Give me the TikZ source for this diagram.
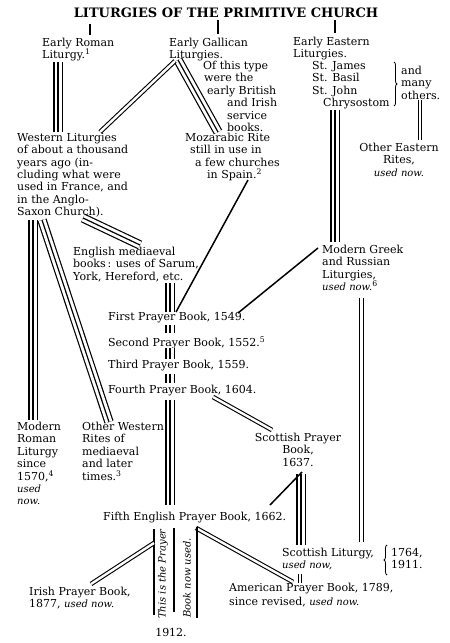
\documentclass[tikz,border=0pt]{standalone}
\usepackage{fontspec}
\setmainfont{DejaVu Serif}
\usetikzlibrary{decorations.pathreplacing}
\newcommand\ital[1]{{\fontsize{10}{12}\selectfont\itshape #1}}
\begin{document}
\begin{tikzpicture}[x=1pt,y=-1pt,
  txt/.style={inner sep=0pt, anchor=north west, align=left, font=\fontsize{11}{12.4}\selectfont},
  ctxt/.style={txt, anchor=north, align=center},
  tick/.style={line width=2.8pt},
  triple/.style={line width=1.2pt, preaction={draw, line width=9.4pt}, preaction={draw=white, line width=7pt}},
  dbl/.style={double, double distance=2.4pt, line width=1.1pt},
  single/.style={line width=1.5pt},
  brc/.style={decorate, decoration={brace, amplitude=3pt}, line width=0.8pt}
]
\useasboundingbox (0,0) rectangle (450,643);
% ---------- nodes ----------
\node[font=\fontsize{13}{16}\selectfont\bfseries, inner sep=0pt] (title) at (226,13) {LITURGIES OF THE PRIMITIVE CHURCH};
\node[txt] (roman) at (42,38) {Early Roman\\Liturgy.\textsuperscript{1}};
\node[txt] (gallican) at (169,38) {Early Gallican\\Liturgies.};
\node[txt] (oftype) at (203,61) {Of this type\\\hspace*{1pt}were the\\\hspace*{4pt}early British\\\hspace*{24pt}and Irish\\\hspace*{24pt}service\\\hspace*{24pt}books.};
\node[txt] (eastern) at (293,37) {Early Eastern\\Liturgies.};
\node[txt] (saints) at (312,61) {St. James\\St. Basil\\St. John\\\hspace*{11pt}Chrysostom};
\node[txt] (others) at (401,66) {and\\many\\others.};
\node[ctxt] (othereast) at (399,143) {Other Eastern\\Rites,\\\ital{used now.}};
\node[txt] (western) at (17,133) {Western Liturgies\\of about a thousand\\years ago (in-\\cluding what were\\used in France, and\\in the Anglo-\\Saxon Church).};
\node[txt] (mozarabic) at (185,133) {Mozarabic Rite\\\hspace*{5pt}still in use in\\\hspace*{10pt}a few churches\\\hspace*{22pt}in Spain.\textsuperscript{2}};
\node[txt] (greek) at (322,245) {Modern Greek\\and Russian\\Liturgies,\\\ital{used now.}\textsuperscript{6}};
\node[txt] (english) at (73,247) {English mediaeval\\books\,: uses of Sarum,\\York, Hereford, etc.};
\node[txt] (first) at (108,312) {First Prayer Book, 1549.};
\node[txt] (second) at (108,337) {Second Prayer Book, 1552.\textsuperscript{5}};
\node[txt] (third) at (108,360) {Third Prayer Book, 1559.};
\node[txt] (fourth) at (108,385) {Fourth Prayer Book, 1604.};
\node[txt] (modroman) at (17,422) {Modern\\Roman\\Liturgy\\since\\1570,\textsuperscript{4}\\\ital{used}\\\ital{now.}};
\node[txt] (otherwest) at (82,422) {Other Western\\Rites of\\mediaeval\\and later\\times.\textsuperscript{3}};
\node[ctxt] (scotpb) at (298,433) {Scottish Prayer\\Book,\\1637.};
\node[txt] (fifth) at (103,512) {Fifth English Prayer Book, 1662.};
\node[txt] (scotlit) at (282,548) {Scottish Liturgy,\\\ital{used now,}};
\node[txt] (dates) at (391,548) {1764,\\1911.};
\node[txt, font=\fontsize{11}{14}\selectfont] (american) at (229,583) {American Prayer Book, 1789,\\since revised, \ital{used now.}};
\node[txt] (irish) at (29,587) {Irish Prayer Book,\\1877, \ital{used now.}};
\node[inner sep=0pt, font=\fontsize{11}{12}\selectfont] (y1912) at (171,632) {1912.};
\node[inner sep=0pt, rotate=90, font=\fontsize{10}{12}\selectfont\itshape] (thisis) at (163,574) {This is the Prayer};
\node[inner sep=0pt, rotate=90, font=\fontsize{10}{12}\selectfont\itshape] (booknow) at (187,578) {Book now used.};
% ---------- junction coordinates ----------
\coordinate (tRa) at (90,24);  \coordinate (tRb) at (90,35);
\coordinate (tGa) at (218,20); \coordinate (tGb) at (218,34);
\coordinate (tEa) at (335,20); \coordinate (tEb) at (335,33);
\coordinate (romanB) at (58,62);   \coordinate (westTR) at (58,132);
\coordinate (galPk) at (175,61);   \coordinate (westTG) at (100,132);
\coordinate (galPk2) at (178,60);  \coordinate (mozT) at (218,132);
\coordinate (eastB) at (335,110);  \coordinate (greekT) at (335,242);
\coordinate (othB) at (420,100);   \coordinate (othEt) at (420,140);
\coordinate (westBE) at (83,218);  \coordinate (engT) at (140,245);
\coordinate (westBL) at (33,220);  \coordinate (mrT) at (33,420);
\coordinate (westBR) at (42,220);  \coordinate (owT) at (109,422);
\coordinate (mozB) at (248,180);   \coordinate (firstJ) at (176,312);
\coordinate (engB) at (170,283);   \coordinate (firstT) at (170,312);
\coordinate (greekL) at (318,248); \coordinate (firstR) at (238,313);
\coordinate (s1a) at (170,325); \coordinate (s1b) at (170,333);
\coordinate (s2a) at (170,348); \coordinate (s2b) at (170,359);
\coordinate (s3a) at (170,374); \coordinate (s3b) at (170,383);
\coordinate (fourthB) at (170,400); \coordinate (fifthT) at (170,505);
\coordinate (fourthR) at (213,397); \coordinate (scotT) at (272,430);
\coordinate (scotB) at (301,474);  \coordinate (slT) at (301,545);
\coordinate (scotPk) at (302,472); \coordinate (fifthR) at (270,505);
\coordinate (greekB) at (361.5,298); \coordinate (greekE) at (361.5,542);
\coordinate (slB) at (300,574);    \coordinate (amT) at (300,583);
\coordinate (fifthPk) at (196,528); \coordinate (amL) at (293,582);
\coordinate (v3a) at (197,527); \coordinate (v3b) at (197,618);
\coordinate (v2a) at (174,528); \coordinate (v2b) at (174,612);
\coordinate (v1a) at (154,529); \coordinate (v1b) at (154,615);
\coordinate (v1j) at (154,543);    \coordinate (irishT) at (91,584);
% ---------- connectors ----------
\draw[tick] (tRa) -- (tRb);
\draw[tick] (tGa) -- (tGb);
\draw[tick] (tEa) -- (tEb);
\draw[triple] (romanB) -- (westTR);
\draw[triple] (galPk2) -- (mozT);
\draw[dbl] (galPk) -- (westTG);
\draw[triple] (eastB) -- (greekT);
\draw[dbl] (othB) -- (othEt);
\draw[triple] (westBE) -- (engT);
\draw[triple] (westBL) -- (mrT);
\draw[triple] (westBR) -- (owT);
\draw[triple] (engB) -- (firstT);
\draw[single] (mozB) -- (firstJ);
\draw[single] (greekL) -- (firstR);
\draw[triple] (s1a) -- (s1b);
\draw[triple] (s2a) -- (s2b);
\draw[triple] (s3a) -- (s3b);
\draw[triple] (fourthB) -- (fifthT);
\draw[dbl] (fourthR) -- (scotT);
\draw[triple] (scotB) -- (slT);
\draw[single] (scotPk) -- (fifthR);
\draw[dbl] (greekB) -- (greekE);
\draw[dbl] (slB) -- (amT);
\draw[dbl] (fifthPk) -- (amL);
\draw[single] (v3a) -- (v3b);
\draw[single] (v2a) -- (v2b);
\draw[single] (v1a) -- (v1b);
\draw[dbl] (v1j) -- (irishT);
% ---------- braces ----------
\draw[brc] (394,62) -- (394,106);
\draw[brc] (387,575) -- (387,545);
\end{tikzpicture}
\end{document}
